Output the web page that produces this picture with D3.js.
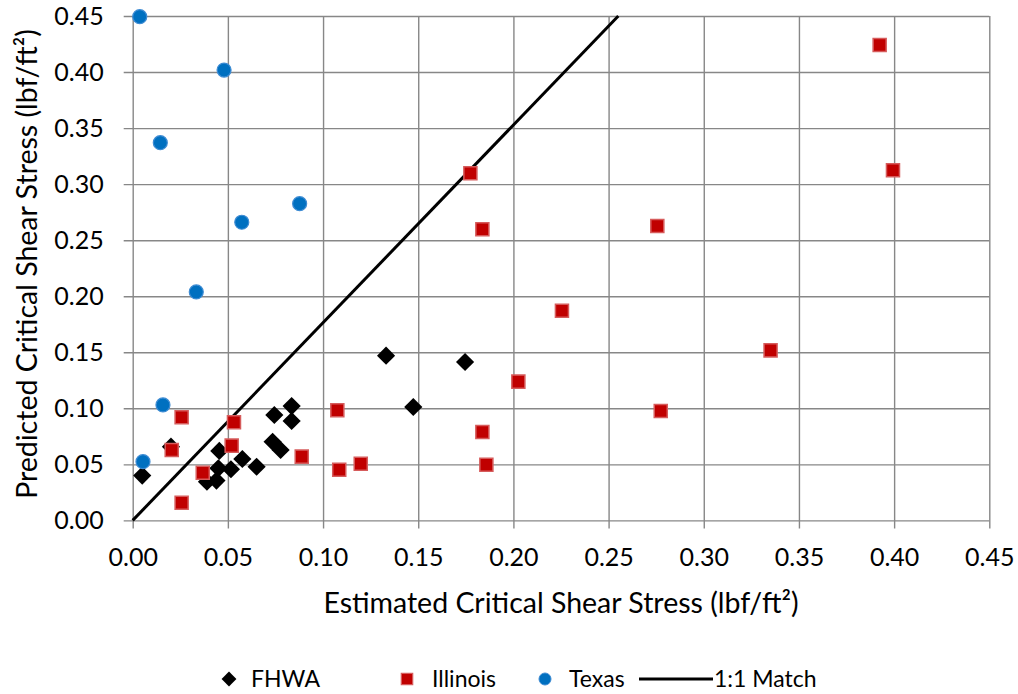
<!DOCTYPE html>
<html>
<head>
<meta charset="utf-8">
<script src="https://cdn.jsdelivr.net/npm/d3@7"></script>
<style>
  body { margin: 0; background: #fff; }
  svg text { font-family: Lato, "Noto Sans", sans-serif; fill: #000; }
  .axis text { font-size: 25px; }
  .axis-title { font-size: 28.5px; }
  .legend-text { font-size: 23px; }
</style>
</head>
<body>
<div id="chart"></div>
<script>
const W = 1018, H = 694;
const margin = { top: 16, right: 28.7, bottom: 173.6, left: 132.7 };
const width = W - margin.left - margin.right,
      height = H - margin.top - margin.bottom;

// data
const fhwaX = [0.005, 0.0201, 0.039, 0.044, 0.045, 0.0455, 0.0516, 0.0576, 0.0651, 0.0735, 0.0777, 0.0744, 0.0835, 0.0835, 0.1331, 0.1746, 0.1474];
const fhwaY = [0.040, 0.0658, 0.0345, 0.0355, 0.0465, 0.062, 0.0456, 0.0548, 0.0479, 0.0702, 0.0628, 0.094, 0.102, 0.0887, 0.147, 0.1413, 0.1012];

const illinoisX = [0.0257, 0.0532, 0.0205, 0.052, 0.0368, 0.0257, 0.0888, 0.1774, 0.1837, 0.2026, 0.1075, 0.1837, 0.1858, 0.1085, 0.1198, 0.2756, 0.2255, 0.3351, 0.2774, 0.3924, 0.3994];
const illinoisY = [0.092, 0.0875, 0.0628, 0.0667, 0.0426, 0.0158, 0.0569, 0.3097, 0.2597, 0.1238, 0.0982, 0.0789, 0.0497, 0.0452, 0.0506, 0.2626, 0.1871, 0.1517, 0.0976, 0.4241, 0.3123];

const texasX = [0.0037, 0.048, 0.0145, 0.0573, 0.0877, 0.0334, 0.0159, 0.0054];
const texasY = [0.4494, 0.4018, 0.337, 0.266, 0.2826, 0.2038, 0.1030, 0.0524];

const matchX = [0, 0.2551];
const matchY = [0, 0.45];

const xTicks = [0, 0.05, 0.10, 0.15, 0.20, 0.25, 0.30, 0.35, 0.40, 0.45];
const yTicks = [0, 0.05, 0.10, 0.15, 0.20, 0.25, 0.30, 0.35, 0.40, 0.45];

const legendNames = ['FHWA', 'Illinois', 'Texas', '1:1 Match'];

const gridColor = '#878787';
const red = '#c00000', blue = '#0070c0';

const zip = (xs, ys) => xs.map((x, i) => ({ x: x, y: ys[i] }));

var svg = d3.select('#chart').append('svg')
  .attr('width', W)
  .attr('height', H);

const xScale = d3.scaleLinear().domain([0, 0.45]).range([0, width]);
const yScale = d3.scaleLinear().domain([0, 0.45]).range([height, 0]);

var g = svg.append('g')
  .attr('transform', 'translate(' + margin.left + ',' + margin.top + ')');

// axes with gridlines, ticks poke out 8-9px past the frame
var xAxis = d3.axisBottom(xScale)
  .tickValues(xTicks)
  .tickFormat(d3.format('.2f'))
  .tickSizeInner(-(height + 8))
  .tickSizeOuter(0)
  .tickPadding(20);
var yAxis = d3.axisLeft(yScale)
  .tickValues(yTicks)
  .tickFormat(d3.format('.2f'))
  .tickSizeInner(-(width + 9))
  .tickSizeOuter(0)
  .tickPadding(20);

var gx = g.append('g')
  .attr('class', 'axis')
  .attr('transform', 'translate(0,' + (height + 8) + ')')
  .call(xAxis);
var gy = g.append('g')
  .attr('class', 'axis')
  .attr('transform', 'translate(-9,0)')
  .call(yAxis);

[gx, gy].forEach(a => {
  a.attr('font-family', null).attr('font-size', null);
  a.select('.domain').remove();
  a.selectAll('.tick line').attr('stroke', gridColor).attr('stroke-width', 1.4);
});

// 1:1 line
const line = d3.line().x(d => xScale(d.x)).y(d => yScale(d.y));
g.append('path')
  .datum(zip(matchX, matchY))
  .attr('d', line)
  .attr('fill', 'none')
  .attr('stroke', '#000')
  .attr('stroke-width', 3);

const diamond = d3.symbol().type(d3.symbolSquare).size(165);
const square = d3.symbol().type(d3.symbolSquare).size(170);

g.append('g').selectAll('path')
  .data(zip(fhwaX, fhwaY))
  .enter().append('path')
  .attr('d', diamond)
  .attr('transform', d => 'translate(' + xScale(d.x) + ',' + yScale(d.y) + ') rotate(45)')
  .attr('fill', '#000');

g.append('g').selectAll('path')
  .data(zip(illinoisX, illinoisY))
  .enter().append('path')
  .attr('d', square)
  .attr('transform', d => 'translate(' + xScale(d.x) + ',' + yScale(d.y) + ')')
  .attr('fill', red)
  .attr('stroke', '#d65c5c')
  .attr('stroke-width', 1.5);

g.append('g').selectAll('circle')
  .data(zip(texasX, texasY))
  .enter().append('circle')
  .attr('cx', d => xScale(d.x))
  .attr('cy', d => yScale(d.y))
  .attr('r', 7)
  .attr('fill', blue)
  .attr('stroke', '#3d8bd3')
  .attr('stroke-width', 1.2);

// axis titles
svg.append('text')
  .attr('class', 'axis-title')
  .attr('x', margin.left + width / 2)
  .attr('y', 612.5)
  .attr('text-anchor', 'middle')
  .text('Estimated Critical Shear Stress (lbf/ft²)');

svg.append('text')
  .attr('class', 'axis-title')
  .attr('transform', 'translate(37,' + 264 + ') rotate(-90)')
  .attr('text-anchor', 'middle')
  .text('Predicted Critical Shear Stress (lbf/ft²)');

// legend
var legend = svg.append('g').attr('transform', 'translate(0,679)');
const lx = [229, 407, 545, 639];
legend.append('path').attr('d', d3.symbol().type(d3.symbolSquare).size(110)())
  .attr('transform', 'translate(' + lx[0] + ',0) rotate(45)').attr('fill', '#000');
legend.append('path').attr('d', d3.symbol().type(d3.symbolSquare).size(130)())
  .attr('transform', 'translate(' + lx[1] + ',0)').attr('fill', red).attr('stroke', '#d65c5c').attr('stroke-width', 1.2);
legend.append('circle').attr('cx', lx[2]).attr('cy', 0).attr('r', 6)
  .attr('fill', blue).attr('stroke', '#3d8bd3');
legend.append('line').attr('x1', lx[3]).attr('x2', lx[3] + 74).attr('y1', 0).attr('y2', 0)
  .attr('stroke', '#000').attr('stroke-width', 3);

const textX = [251, 432, 569, 714];
legend.selectAll('text.legend-text')
  .data(legendNames)
  .enter().append('text')
  .attr('class', 'legend-text')
  .attr('x', (d, i) => textX[i])
  .attr('y', 0)
  .attr('dy', '0.35em')
  .text(d => d);
</script>
</body>
</html>
